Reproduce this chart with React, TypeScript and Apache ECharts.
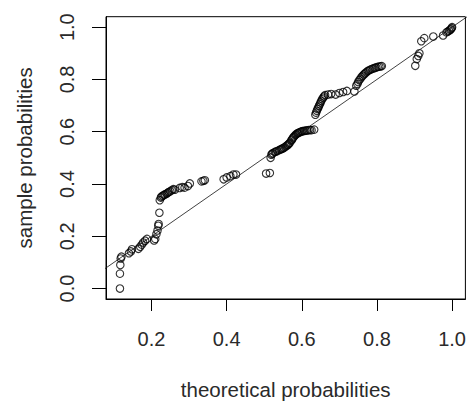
import React, { useEffect, useRef } from "react";
import * as echarts from "echarts";

// theoretical (x) and sample (y) probabilities
const theoretical = [
  0.116, 0.116, 0.117, 0.118, 0.120, 0.140, 0.145, 0.148, 0.165, 0.170,
  0.174, 0.178, 0.183, 0.188, 0.207, 0.210, 0.213, 0.216, 0.218, 0.219,
  0.221, 0.222, 0.225, 0.227, 0.230, 0.233, 0.236, 0.240, 0.243, 0.246,
  0.250, 0.254, 0.258, 0.262, 0.275, 0.282, 0.288, 0.297, 0.302, 0.333,
  0.338, 0.342, 0.392, 0.400, 0.410, 0.418, 0.425, 0.505, 0.515, 0.517,
  0.519, 0.521, 0.523, 0.528, 0.531, 0.535, 0.540, 0.543, 0.546, 0.549,
  0.552, 0.555, 0.558, 0.561, 0.563, 0.566, 0.568, 0.572, 0.574, 0.576,
  0.578, 0.580, 0.583, 0.585, 0.588, 0.590, 0.593, 0.596, 0.599, 0.602,
  0.606, 0.610, 0.614, 0.618, 0.622, 0.626, 0.633, 0.636, 0.638, 0.640,
  0.642, 0.644, 0.646, 0.648, 0.650, 0.652, 0.654, 0.657, 0.659, 0.662,
  0.670, 0.678, 0.690, 0.700, 0.710, 0.720, 0.740, 0.745, 0.748, 0.750,
  0.753, 0.756, 0.759, 0.762, 0.765, 0.768, 0.771, 0.775, 0.778, 0.782,
  0.786, 0.790, 0.794, 0.798, 0.802, 0.806, 0.810, 0.813, 0.902, 0.906,
  0.910, 0.913, 0.918, 0.926, 0.950, 0.976, 0.985, 0.988, 0.992, 0.995,
  0.997, 0.999, 1.000,
];
const sample = [
  0.000, 0.057, 0.090, 0.115, 0.122, 0.135, 0.142, 0.150, 0.152, 0.160,
  0.168, 0.176, 0.183, 0.190, 0.184, 0.190, 0.208, 0.222, 0.240, 0.247,
  0.290, 0.338, 0.348, 0.352, 0.355, 0.358, 0.360, 0.363, 0.366, 0.369,
  0.372, 0.376, 0.380, 0.378, 0.385, 0.388, 0.386, 0.392, 0.402, 0.410,
  0.412, 0.414, 0.418, 0.425, 0.430, 0.436, 0.436, 0.440, 0.442, 0.500,
  0.512, 0.516, 0.518, 0.522, 0.524, 0.526, 0.530, 0.532, 0.534, 0.536,
  0.538, 0.541, 0.544, 0.547, 0.550, 0.554, 0.558, 0.566, 0.570, 0.575,
  0.579, 0.583, 0.587, 0.590, 0.593, 0.595, 0.597, 0.599, 0.601, 0.602,
  0.603, 0.604, 0.605, 0.606, 0.606, 0.606, 0.608, 0.665, 0.673, 0.680,
  0.687, 0.693, 0.699, 0.705, 0.712, 0.718, 0.724, 0.730, 0.735, 0.740,
  0.742, 0.744, 0.742, 0.748, 0.752, 0.756, 0.754, 0.776, 0.783, 0.790,
  0.797, 0.803, 0.809, 0.814, 0.819, 0.823, 0.827, 0.831, 0.834, 0.837,
  0.840, 0.842, 0.844, 0.846, 0.848, 0.849, 0.850, 0.851, 0.852, 0.878,
  0.890, 0.900, 0.946, 0.958, 0.964, 0.968, 0.980, 0.983, 0.986, 0.990,
  0.992, 0.996, 1.000,
];

const xTicks = [0.2, 0.4, 0.6, 0.8, 1.0];
const yTicks = [0.0, 0.2, 0.4, 0.6, 0.8, 1.0];
const refLineX = [0, 1.1];
const refLineY = [0, 1.1];

const W = 469;
const H = 405;
const FONT = "'Liberation Sans', Arial, sans-serif";

export default function App() {
  const ref = useRef<HTMLDivElement>(null);

  useEffect(() => {
    if (!ref.current) return;
    const chart = echarts.init(ref.current, null, { renderer: "svg", width: W, height: H });
    const points = theoretical.map((x, i) => [x, sample[i]]);
    const line = refLineX.map((x, i) => [x, refLineY[i]]);
    const black = "#000";
    const textColor = "#2a2a2a";
    chart.setOption({
      animation: false,
      backgroundColor: "#fff",
      grid: {
        left: 106,
        width: 363,
        top: 16.7,
        height: 288,
        show: true,
        borderColor: black,
        borderWidth: 1,
        backgroundColor: "transparent",
        containLabel: false,
      },
      xAxis: {
        type: "value",
        min: 0.0789,
        max: 1.0354,
        splitLine: { show: false },
        axisLine: { show: true, onZero: false, lineStyle: { color: black, width: 1 } },
        axisTick: { show: true, customValues: xTicks, length: 12, lineStyle: { color: black, width: 1 } },
        axisLabel: {
          customValues: xTicks,
          formatter: (v: number) => v.toFixed(1),
          fontFamily: FONT,
          fontSize: 20,
          color: textColor,
          margin: 30,
        },
        name: "theoretical probabilities",
        nameLocation: "middle",
        nameGap: 80,
        nameTextStyle: { fontFamily: FONT, fontSize: 20.5, color: textColor },
      },
      yAxis: {
        type: "value",
        min: -0.04,
        max: 1.04,
        splitLine: { show: false },
        axisLine: { show: true, onZero: false, lineStyle: { color: black, width: 1 } },
        axisTick: { show: true, customValues: yTicks, length: 14, lineStyle: { color: black, width: 1 } },
        axisLabel: {
          customValues: yTicks,
          formatter: (v: number) => v.toFixed(1),
          rotate: 90,
          fontFamily: FONT,
          fontSize: 20,
          color: textColor,
          margin: 29,
        },
        name: "sample probabilities",
        nameLocation: "middle",
        nameGap: 71,
        nameTextStyle: { fontFamily: FONT, fontSize: 20.5, color: textColor },
      },
      series: [
        {
          type: "scatter",
          data: points,
          symbol: "circle",
          symbolSize: 7.5,
          itemStyle: { color: "rgba(0,0,0,0)", borderColor: black, borderWidth: 1.1 },
          emphasis: { disabled: true },
          z: 2,
        },
        {
          type: "line",
          data: line,
          showSymbol: false,
          symbol: "none",
          clip: true,
          lineStyle: { color: "#111", width: 0.8 },
          emphasis: { disabled: true },
          z: 3,
        },
      ],
    });
    return () => chart.dispose();
  }, []);

  return (
    <div
      style={{
        position: "fixed",
        left: 0,
        top: 0,
        width: W,
        height: H,
        overflow: "hidden",
        background: "#fff",
      }}
    >
      <div ref={ref} style={{ width: W, height: H }} />
    </div>
  );
}
